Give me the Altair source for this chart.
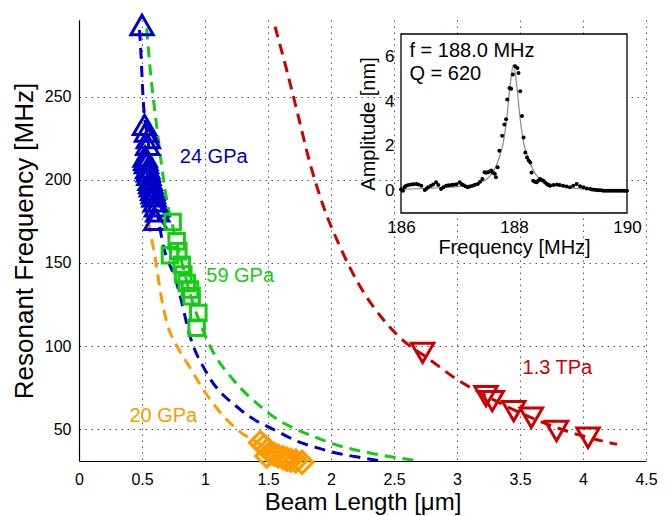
import altair as alt
import pandas as pd

FONT = "Liberation Sans"
BLUE = "#0000C8"
GREEN = "#14CC14"
ORANGE = "#FF9900"
RED = "#CC0000"

# ---- fitted curves (beam length in um, frequency in MHz) ----
blue_fit_L = [0.48, 0.49, 0.508, 0.55, 0.60, 0.659, 0.775, 0.80, 0.881, 1.013, 1.278, 1.595, 1.728, 1.886, 2.03, 2.20, 2.40]
blue_fit_f = [290, 278, 250, 222, 192, 164, 138, 131, 106, 84, 62, 48, 43, 39, 36, 33.5, 31.0]

green_fit_L = [0.537, 0.563, 0.617, 0.696, 0.75, 0.80, 0.90, 1.04, 1.222, 1.437, 1.595, 1.728, 1.886, 2.03, 2.30, 2.70]
green_fit_f = [291, 268, 232, 188, 170, 155, 127, 100, 80, 64, 55, 50, 45, 41, 36, 31.0]

orange_fit_L = [0.484, 0.563, 0.603, 0.643, 0.698, 0.778, 0.857, 1.04, 1.254, 1.41, 1.60, 1.78]
orange_fit_f = [218, 170, 154, 134, 114, 100, 90, 68, 50, 42.2, 35, 30.5]

red_fit_L = [1.556, 1.648, 1.728, 1.833, 1.94, 2.07, 2.23, 2.415, 2.627, 2.727, 3.0, 3.26, 3.5, 3.87, 4.0, 4.27]
red_fit_f = [292, 266, 242, 210, 184, 160, 136, 116, 100, 95, 80, 69, 60, 49, 46, 41]

# ---- measured resonators ----
blue_L = [0.50, 0.52, 0.535, 0.55, 0.545, 0.525, 0.53, 0.535, 0.545, 0.55, 0.555, 0.565,
          0.57, 0.575, 0.585, 0.59, 0.595, 0.605, 0.615, 0.625, 0.61]
blue_f = [293, 233, 229, 225, 221, 214, 212, 210, 207, 205, 203, 200,
          198, 196, 194, 192, 190, 187, 184, 181, 176]

green_L = [0.743, 0.775, 0.788, 0.722, 0.815, 0.828, 0.855, 0.881, 0.894, 0.947, 0.934]
green_f = [174.6, 163, 157, 154.6, 149, 143, 138, 134, 130, 120, 111]

orange_L = [1.44, 1.47, 1.50, 1.52, 1.49, 1.55, 1.58, 1.62, 1.65, 1.68, 1.72, 1.77]
orange_f = [42, 40, 38, 36, 34, 35, 34, 33, 32, 31.5, 31, 30.2]

red_L = [2.727, 3.23, 3.28, 3.45, 3.59, 3.79, 4.04]
red_f = [96, 70, 67, 61, 57, 49, 45]

# ---- labels ----
lab_text = ["24 GPa", "59 GPa", "20 GPa", "1.3 TPa"]
lab_L = [0.80, 1.01, 0.40, 3.52]
lab_f = [213.5, 142, 58, 87]
lab_color = [BLUE, GREEN, ORANGE, RED]

# ---- inset: resonance of one beam ----
ins_freq = [186.0, 186.035, 186.06, 186.09, 186.13, 186.18, 186.22, 186.27, 186.31, 186.36,
            186.42, 186.45, 186.48, 186.53, 186.57, 186.62, 186.66, 186.71, 186.75, 186.8,
            186.84, 186.89, 186.93, 186.98, 187.04, 187.07, 187.1, 187.14, 187.18, 187.22,
            187.27, 187.31, 187.36, 187.4, 187.44, 187.48, 187.51, 187.54, 187.57, 187.6,
            187.63, 187.66, 187.68, 187.71, 187.74, 187.79, 187.83, 187.86, 187.88, 187.92,
            187.95, 187.98, 188.02, 188.06, 188.08, 188.11, 188.14, 188.17, 188.2, 188.23,
            188.26, 188.29, 188.31, 188.34, 188.37, 188.4, 188.43, 188.46, 188.49, 188.52,
            188.55, 188.58, 188.61, 188.64, 188.7, 188.76, 188.81, 188.87, 188.93, 188.99,
            189.05, 189.11, 189.17, 189.23, 189.29, 189.35, 189.38, 189.42, 189.46, 189.5,
            189.54, 189.58, 189.62, 189.66, 189.7, 189.74, 189.78, 189.82, 189.86, 189.9,
            189.94, 189.97, 190.0]
ins_amp = [0.05, 0.0, 0.15, 0.22, 0.25, 0.27, 0.28, 0.3, 0.27, 0.22,
           0.03, 0.08, 0.15, 0.22, 0.27, 0.37, 0.25, 0.07, 0.15, 0.22,
           0.24, 0.25, 0.26, 0.28, 0.37, 0.3, 0.25, 0.2, 0.15, 0.18,
           0.22, 0.26, 0.3, 0.4, 0.52, 0.82, 0.8, 0.82, 0.86, 0.9,
           0.8, 0.75, 0.6, 1.04, 1.78, 2.45, 2.96, 3.19, 4.07, 4.59,
           4.55, 5.19, 5.56, 5.48, 5.26, 4.44, 3.33, 2.37, 1.70, 1.48,
           1.35, 1.26, 0.81, 0.44, 0.4, 0.37, 0.45, 0.52, 0.48, 0.44,
           0.36, 0.3, 0.25, 0.22, 0.25, 0.27, 0.25, 0.22, 0.18, 0.15,
           0.22, 0.3, 0.2, 0.15, 0.1, 0.07, 0.05, 0.04, 0.03, 0.02,
           0.02, 0.0, 0.0, 0.0, 0.0, 0.0, 0.0, 0.0, 0.0, 0.0,
           0.0, 0.0, 0.0]
ins_fit_freq = [186.0, 186.87, 187.34, 187.58, 187.73, 187.81, 187.87, 187.93, 187.99,
                188.05, 188.11, 188.17, 188.26, 188.4, 188.64, 188.93, 189.23, 190.0]
ins_fit_amp = [0.07, 0.15, 0.3, 0.67, 1.41, 2.15, 3.19, 4.67, 5.63,
               4.67, 3.19, 2.15, 1.41, 0.67, 0.3, 0.15, 0.07, 0.03]
ins_text = ["f = 188.0 MHz", "Q = 620"]
ins_text_freq = [186.15, 186.15]
ins_text_amp = [6.22, 5.19]

# ---------------- main plot ----------------
xscale = alt.Scale(domain=[0, 4.5], nice=False, zero=False)
yscale = alt.Scale(domain=[31, 296], nice=False, zero=False)

grid_kw = dict(grid=True, gridDash=[1.5, 4.5], gridColor="#555555", gridWidth=1,
               ticks=False, domainColor="black", domainWidth=1.2, labelFlush=False,
               labelFont=FONT, titleFont=FONT, labelColor="black", titleColor="black",
               titleFontWeight="normal")
xaxis = alt.Axis(values=[0, 0.5, 1, 1.5, 2, 2.5, 3, 3.5, 4, 4.5], format="~g",
                 title="Beam Length [μm]", labelFontSize=16, titleFontSize=24,
                 labelPadding=10, titlePadding=3, **grid_kw)
yaxis = alt.Axis(values=[50, 100, 150, 200, 250], title="Resonant Frequency [MHz]",
                 labelFontSize=16, titleFontSize=26, labelPadding=8, titlePadding=7,
                 **grid_kw)


def fit_line(xs, ys, color):
    df = pd.DataFrame({"L": xs, "f": ys, "o": range(len(xs))})
    return alt.Chart(df).mark_line(color=color, strokeWidth=3, strokeDash=[11, 7],
                                   interpolate="monotone", clip=True).encode(
        x=alt.X("L:Q", scale=xscale, axis=xaxis),
        y=alt.Y("f:Q", scale=yscale, axis=yaxis),
        order="o:Q")


def markers(xs, ys, color, shape, size, sw):
    df = pd.DataFrame({"L": xs, "f": ys})
    return alt.Chart(df).mark_point(shape=shape, size=size, filled=False, color=color,
                                    strokeWidth=sw, opacity=1).encode(
        x=alt.X("L:Q", scale=xscale, axis=xaxis),
        y=alt.Y("f:Q", scale=yscale, axis=yaxis))


lab_df = pd.DataFrame({"t": lab_text, "L": lab_L, "f": lab_f, "c": lab_color})
labels = alt.Chart(lab_df).mark_text(align="left", baseline="middle", font=FONT,
                                     fontSize=20).encode(
    x=alt.X("L:Q", scale=xscale, axis=xaxis),
    y=alt.Y("f:Q", scale=yscale, axis=yaxis),
    text="t:N",
    color=alt.Color("c:N", scale=None))

main = alt.layer(
    fit_line(orange_fit_L, orange_fit_f, ORANGE),
    fit_line(blue_fit_L, blue_fit_f, BLUE),
    fit_line(green_fit_L, green_fit_f, GREEN),
    fit_line(red_fit_L, red_fit_f, RED),
    markers(blue_L, blue_f, BLUE, "triangle-up", 500, 3),
    markers(green_L, green_f, GREEN, "square", 240, 3),
    markers(orange_L, orange_f, ORANGE, "diamond", 480, 3.2),
    markers(red_L, red_f, RED, "triangle-down", 500, 3),
    labels,
)

# ---------------- inset ----------------
ixscale = alt.Scale(domain=[186, 190], range=[322, 548], nice=False, zero=False)
iyscale = alt.Scale(domain=[-1, 7], range=[193, 14], nice=False, zero=False)
iax_kw = dict(grid=False, domain=False, ticks=False, zindex=1, labelFlush=False,
              labelFont=FONT, titleFont=FONT, labelColor="black", titleColor="black",
              titleFontWeight="normal", labelFontSize=17, titleFontSize=20)
ixaxis = alt.Axis(orient="bottom", offset=-248, values=[186, 188, 190], title="Frequency [MHz]",
                  labelPadding=6, titlePadding=2, **iax_kw)
iyaxis = alt.Axis(orient="left", offset=-322, values=[0, 2, 4, 6], title="Amplitude [nm]",
                  labelPadding=7, titlePadding=6, **iax_kw)

box_df = pd.DataFrame({"a": [186], "b": [190], "c": [-1], "d": [7]})
box = alt.Chart(box_df).mark_rect(fill="white", stroke="black", strokeWidth=1.3).encode(
    x=alt.X("a:Q", scale=ixscale, axis=ixaxis),
    x2="b:Q",
    y=alt.Y("c:Q", scale=iyscale, axis=iyaxis),
    y2="d:Q")

fit_df = pd.DataFrame({"fr": ins_fit_freq, "a": ins_fit_amp})
ifit = alt.Chart(fit_df).mark_line(color="#8a8a8a", strokeWidth=1.2, interpolate="monotone").encode(
    x=alt.X("fr:Q", scale=ixscale, axis=ixaxis),
    y=alt.Y("a:Q", scale=iyscale, axis=iyaxis))

dots_df = pd.DataFrame({"fr": ins_freq, "a": ins_amp})
idots = alt.Chart(dots_df).mark_circle(color="black", size=16, opacity=1).encode(
    x=alt.X("fr:Q", scale=ixscale, axis=ixaxis),
    y=alt.Y("a:Q", scale=iyscale, axis=iyaxis))

itext_df = pd.DataFrame({"t": ins_text, "fr": ins_text_freq, "a": ins_text_amp})
itext = alt.Chart(itext_df).mark_text(align="left", baseline="middle", font=FONT,
                                      fontSize=20, color="black").encode(
    x=alt.X("fr:Q", scale=ixscale, axis=ixaxis),
    y=alt.Y("a:Q", scale=iyscale, axis=iyaxis),
    text="t:N")

inset = alt.layer(box, ifit, idots, itext)

chart = alt.layer(main, inset).resolve_scale(x="independent", y="independent").properties(
    width=567, height=441,
    padding={"left": 71, "top": 12, "right": 13, "bottom": 54},
    autosize="none",
    background="white",
).configure_view(stroke=None)

chart.save("out.html", embed_options={"renderer": "svg", "actions": False})
